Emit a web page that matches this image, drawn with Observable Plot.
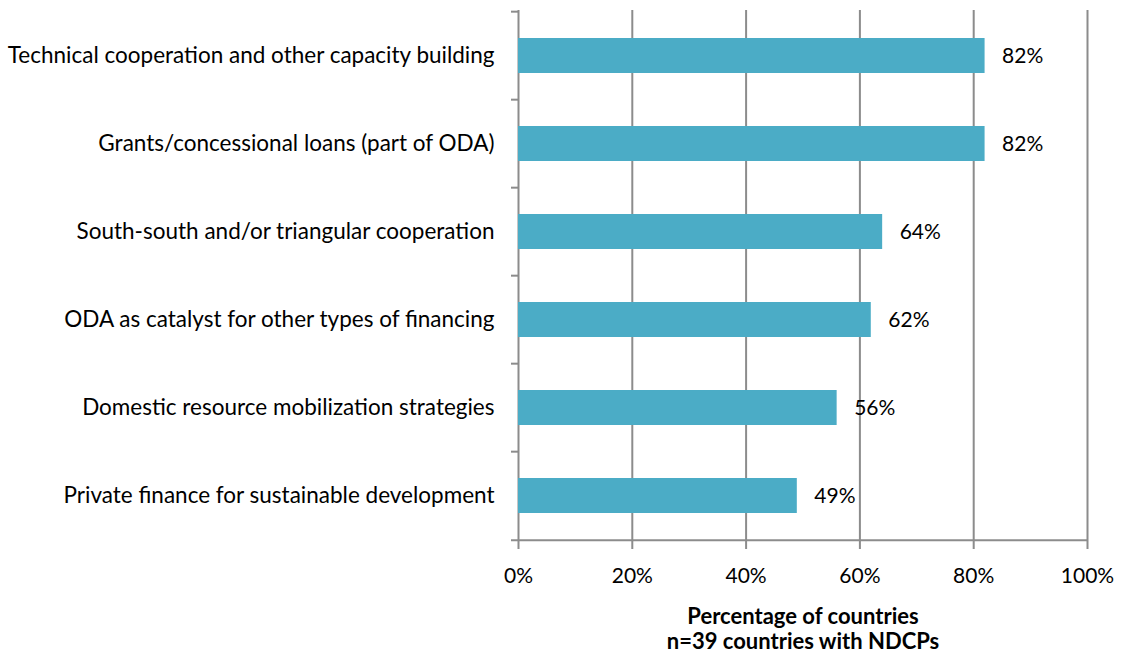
<!DOCTYPE html>
<html>
<head>
<meta charset="utf-8">
<script src="https://cdn.jsdelivr.net/npm/d3@7"></script>
<script src="https://cdn.jsdelivr.net/npm/@observablehq/plot@0.6"></script>
<style>
  html, body { margin: 0; padding: 0; background: #fff; }
  #chart svg { display: block; }
</style>
</head>
<body>
<div id="chart"></div>
<script>
const categories = [
  "Technical cooperation and other capacity building",
  "Grants/concessional loans (part of ODA)",
  "South-south and/or triangular cooperation",
  "ODA as catalyst for other types of financing",
  "Domestic resource mobilization strategies",
  "Private finance for sustainable development"
];
const values = [0.82, 0.82, 0.64, 0.62, 0.56, 0.49];
const xTicks = [0, 0.2, 0.4, 0.6, 0.8, 1.0];
const axisTitle = "Percentage of countries\nn=39 countries with NDCPs";

const data = categories.map((c, i) => ({category: c, value: values[i]}));

const W = 1121, H = 660;
const mL = 518, mR = 34, mT = 10, mB = 118;
const step = (H - mT - mB) / categories.length;
const grey = "#8c8c8c";
const font = "Lato, sans-serif";
const fs = 21;

const chart = Plot.plot({
  width: W,
  height: H,
  marginLeft: mL,
  marginRight: mR,
  marginTop: mT,
  marginBottom: mB,
  style: {fontFamily: font, fontSize: fs + "px", color: "#000", background: "#fff"},
  x: {domain: [0, 1], ticks: xTicks, tickFormat: d3.format(".0%"), label: null},
  y: {domain: categories, paddingInner: 0.6, paddingOuter: 0.3, label: null},
  marks: [
    Plot.ruleX(xTicks, {stroke: grey, strokeWidth: 2, insetBottom: -7}),
    Plot.ruleY(categories, {y: d => d, x1: 0, x2: 0, dy: -step / 2, insetLeft: -7, stroke: grey, strokeWidth: 2}),
    Plot.ruleY(categories.slice(-1), {y: d => d, x1: 0, x2: 1, dy: step / 2, insetLeft: -7, stroke: grey, strokeWidth: 2}),
    Plot.barX(data, {x: "value", y: "category", fill: "#4bacc6"}),
    Plot.text(data, {x: "value", y: "category", text: d => d3.format(".0%")(d.value), textAnchor: "start", dx: 17, fontSize: fs, fill: "#000"}),
    Plot.axisX({ticks: xTicks, tickFormat: d3.format(".0%"), tickSize: 0, tickPadding: 26, fontSize: fs, label: null}),
    Plot.axisY({tickSize: 0, tickPadding: 24, fontSize: 22.5, label: null}),
    Plot.text([axisTitle], {frameAnchor: "bottom", dy: 86, fontWeight: "bold", fontSize: 22, lineHeight: 1.14, lineAnchor: "middle", fill: "#000"})
  ]
});
document.getElementById("chart").appendChild(chart);
</script>
</body>
</html>
